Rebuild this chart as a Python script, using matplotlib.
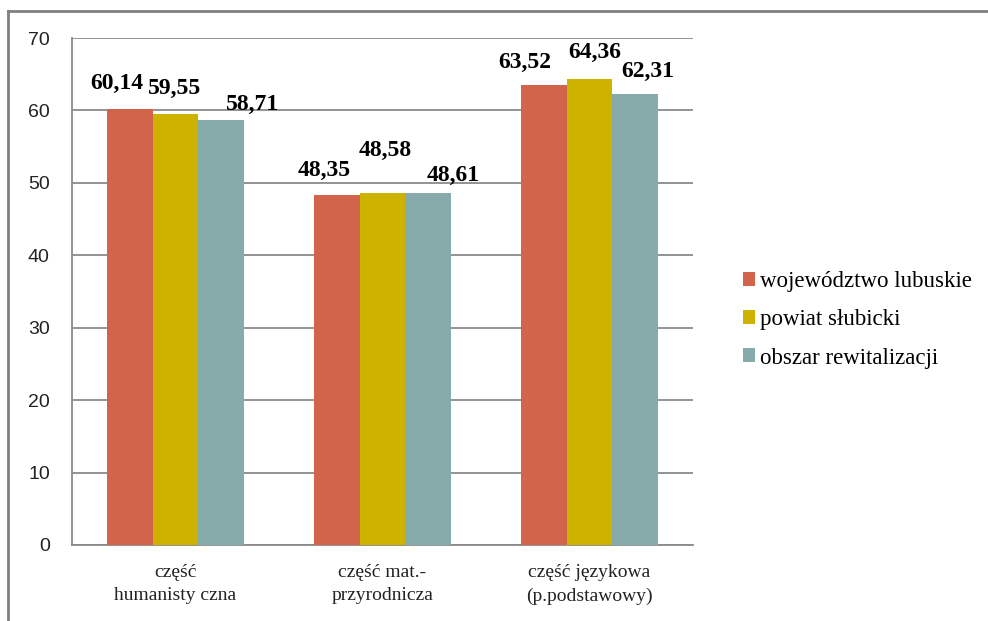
import matplotlib
matplotlib.use("Agg")
import matplotlib.pyplot as plt
from matplotlib.lines import Line2D
import numpy as np

categories = ["część\nhumanisty czna", "część mat.-\nprzyrodnicza", "część językowa\n(p.podstawowy)"]
series_names = ["województwo lubuskie", "powiat słubicki", "obszar rewitalizacji"]
woj_lubuskie = [60.14, 48.35, 63.52]
powiat_slubicki = [59.55, 48.58, 64.36]
obszar_rewit = [58.71, 48.61, 62.31]
yticks = [0, 10, 20, 30, 40, 50, 60, 70]

colors = ["#D2644B", "#CDB200", "#87AAAA"]
# label offsets in pixels (dx, dy) per series per category, mimics excel placement
offsets = [
    [(-13, 26), (-12, 24), (-19, 22)],
    [(-1, 25), (3, 43), (5, 26)],
    [(31, 15), (25, 17), (12, 22)],
]

fig = plt.figure(figsize=(9.88, 6.21), dpi=100)
ax = fig.add_axes([0.0729, 0.1224, 0.6285, 0.8164])

x = np.arange(len(categories))
w = 0.222
series = [woj_lubuskie, powiat_slubicki, obszar_rewit]
for j, vals in enumerate(series):
    bars = ax.bar(x + (j - 1) * w, vals, w, color=colors[j], label=series_names[j], zorder=3)
    for i, b in enumerate(bars):
        dx, dy = offsets[j][i]
        ax.annotate(f"{vals[i]:.2f}".replace(".", ","),
                    (b.get_x() + b.get_width() / 2, b.get_height()),
                    textcoords="offset pixels", xytext=(dx, dy),
                    ha="center", va="center", fontsize=17, fontweight="bold",
                    family="Liberation Serif", zorder=4)

ax.set_xlim(-0.5, 2.5)
ax.set_ylim(0, 70)
ax.set_yticks(yticks)
ax.set_yticklabels([str(t) for t in yticks], fontsize=14, family="Liberation Sans", color="#222222")
ax.set_xticks(x)
ax.set_xticklabels(categories, fontsize=14, family="Liberation Serif", linespacing=1.45, color="#222222")
ax.tick_params(axis="both", length=0)
ax.tick_params(axis="y", pad=16)
ax.tick_params(axis="x", pad=14)
ax.grid(axis="y", color="#8a8a8a", linewidth=1.3, zorder=0)
for s in ["top", "right"]:
    ax.spines[s].set_visible(False)
ax.spines["left"].set_color("#8a8a8a")
ax.spines["bottom"].set_color("#8a8a8a")
ax.spines["left"].set_linewidth(1.3)
ax.spines["bottom"].set_linewidth(1.3)

leg = fig.legend(loc="center left", bbox_to_anchor=(0.731, 0.485), frameon=False,
                 prop={"family": "Liberation Serif", "size": 16.5},
                 handlelength=0.55, handleheight=0.55, handletextpad=0.2, labelspacing=0.75)

# outer frame (top and left only visible)
fig.add_artist(Line2D([0.0081, 1.0], [0.9823, 0.9823], color="#808080", linewidth=2, transform=fig.transFigure))
fig.add_artist(Line2D([0.0081, 0.0081], [0.0, 0.9823], color="#808080", linewidth=2, transform=fig.transFigure))

fig.savefig("out.png", dpi=100)
